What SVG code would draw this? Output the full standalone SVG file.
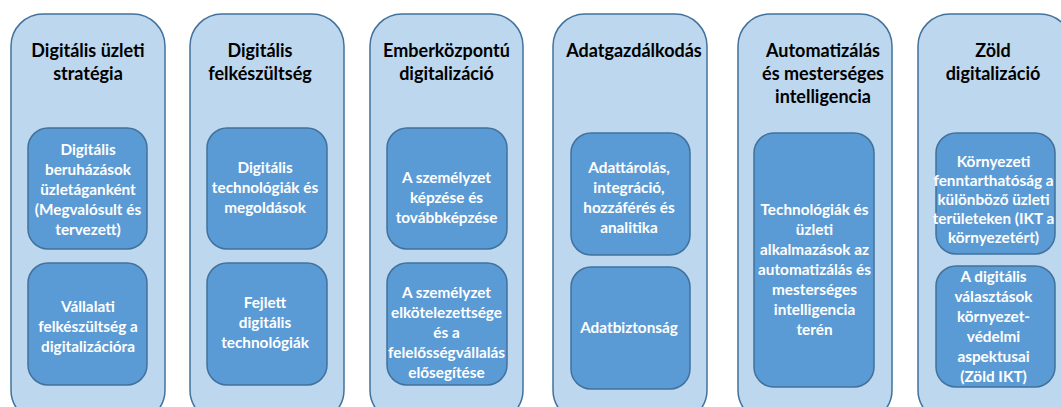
<svg xmlns="http://www.w3.org/2000/svg" width="1061" height="407" viewBox="0 0 1061 407">
<style>
.outer{fill:#BDD7EE;stroke:#41719C;stroke-width:1.5}
.inner{fill:#5B9BD5;stroke:#41719C;stroke-width:1.5}
.t{font-family:Lato,"Liberation Sans",sans-serif;font-weight:bold;font-size:18px;fill:#000;text-anchor:middle}
.s{font-family:Lato,"Liberation Sans",sans-serif;font-weight:bold;font-size:15.3px;fill:#fff;text-anchor:middle}
</style>
<rect width="1061" height="407" fill="#fff"/>
<g id="connectors"/>
<g id="col1">
<rect class="outer" x="11" y="14" width="154" height="408" rx="32"/>
<text class="t" x="88" y="57">Digitális üzleti</text>
<text class="t" x="88" y="80">stratégia</text>
</g>
<g id="col1-box1">
<rect class="inner" x="28" y="128" width="119" height="121" rx="20"/>
<text class="s" x="88" y="155">Digitális</text>
<text class="s" x="88" y="175">beruházások</text>
<text class="s" x="88" y="195">üzletáganként</text>
<text class="s" x="88" y="215">(Megvalósult és</text>
<text class="s" x="88" y="235">tervezett)</text>
</g>
<g id="col1-box2">
<rect class="inner" x="28" y="263" width="119" height="122" rx="20"/>
<text class="s" x="88" y="312">Vállalati</text>
<text class="s" x="88" y="332">felkészültség a</text>
<text class="s" x="88" y="352">digitalizációra</text>
</g>
<g id="col2">
<rect class="outer" x="190" y="14" width="154" height="408" rx="32"/>
<text class="t" x="260" y="57">Digitális</text>
<text class="t" x="260" y="80">felkészültség</text>
</g>
<g id="col2-box1">
<rect class="inner" x="207" y="128" width="120" height="121" rx="20"/>
<text class="s" x="265" y="173">Digitális</text>
<text class="s" x="265" y="193">technológiák és</text>
<text class="s" x="265" y="213">megoldások</text>
</g>
<g id="col2-box2">
<rect class="inner" x="207" y="263" width="120" height="122" rx="20"/>
<text class="s" x="265" y="308">Fejlett</text>
<text class="s" x="265" y="328">digitális</text>
<text class="s" x="265" y="348">technológiák</text>
</g>
<g id="col3">
<rect class="outer" x="370" y="14" width="153" height="408" rx="32"/>
<text class="t" x="446.5" y="57">Emberközpontú</text>
<text class="t" x="446.5" y="80">digitalizáció</text>
</g>
<g id="col3-box1">
<rect class="inner" x="387" y="128" width="120" height="121" rx="20"/>
<text class="s" x="446.5" y="183">A személyzet</text>
<text class="s" x="446.5" y="203">képzése és</text>
<text class="s" x="446.5" y="223">továbbképzése</text>
</g>
<g id="col3-box2">
<rect class="inner" x="387" y="263" width="120" height="122" rx="20"/>
<text class="s" x="446.5" y="298">A személyzet</text>
<text class="s" x="446.5" y="318">elkötelezettsége</text>
<text class="s" x="446.5" y="338">és a</text>
<text class="s" x="446.5" y="358">felelősségvállalás</text>
<text class="s" x="446.5" y="378">elősegítése</text>
</g>
<g id="col4">
<rect class="outer" x="553" y="14" width="154" height="408" rx="32"/>
<text class="t" x="634" y="57">Adatgazdálkodás</text>
</g>
<g id="col4-box1">
<rect class="inner" x="571" y="133" width="119" height="122" rx="20"/>
<text class="s" x="629" y="173">Adattárolás,</text>
<text class="s" x="629" y="193">integráció,</text>
<text class="s" x="629" y="213">hozzáférés és</text>
<text class="s" x="629" y="233">analitika</text>
</g>
<g id="col4-box2">
<rect class="inner" x="571" y="267" width="119" height="122" rx="20"/>
<text class="s" x="629" y="333">Adatbiztonság</text>
</g>
<g id="col5">
<rect class="outer" x="738" y="14" width="154" height="408" rx="32"/>
<text class="t" x="823" y="57">Automatizálás</text>
<text class="t" x="823" y="80">és mesterséges</text>
<text class="t" x="823" y="103">intelligencia</text>
</g>
<g id="col5-box1">
<rect class="inner" x="754" y="133" width="120" height="254" rx="20"/>
<text class="s" x="814.5" y="215">Technológiák és</text>
<text class="s" x="814.5" y="235">üzleti</text>
<text class="s" x="814.5" y="255">alkalmazások az</text>
<text class="s" x="814.5" y="275">automatizálás és</text>
<text class="s" x="814.5" y="295">mesterséges</text>
<text class="s" x="814.5" y="315">intelligencia</text>
<text class="s" x="814.5" y="335">terén</text>
</g>
<g id="col6">
<rect class="outer" x="918" y="14" width="154" height="408" rx="32"/>
<text class="t" x="993" y="57">Zöld</text>
<text class="t" x="993" y="80">digitalizáció</text>
</g>
<g id="col6-box1">
<rect class="inner" x="936" y="133" width="119" height="121" rx="20"/>
<text class="s" x="993.5" y="167">Környezeti</text>
<text class="s" x="993.5" y="186">fenntarthatóság a</text>
<text class="s" x="993.5" y="205">különböző üzleti</text>
<text class="s" x="993.5" y="224">területeken (IKT a</text>
<text class="s" x="993.5" y="243">környezetért)</text>
</g>
<g id="col6-box2">
<rect class="inner" x="936" y="266" width="119" height="121" rx="20"/>
<text class="s" x="993.5" y="282">A digitális</text>
<text class="s" x="993.5" y="302">választások</text>
<text class="s" x="993.5" y="322">környezet-</text>
<text class="s" x="993.5" y="342">védelmi</text>
<text class="s" x="993.5" y="362">aspektusai</text>
<text class="s" x="993.5" y="382">(Zöld IKT)</text>
</g>
</svg>
